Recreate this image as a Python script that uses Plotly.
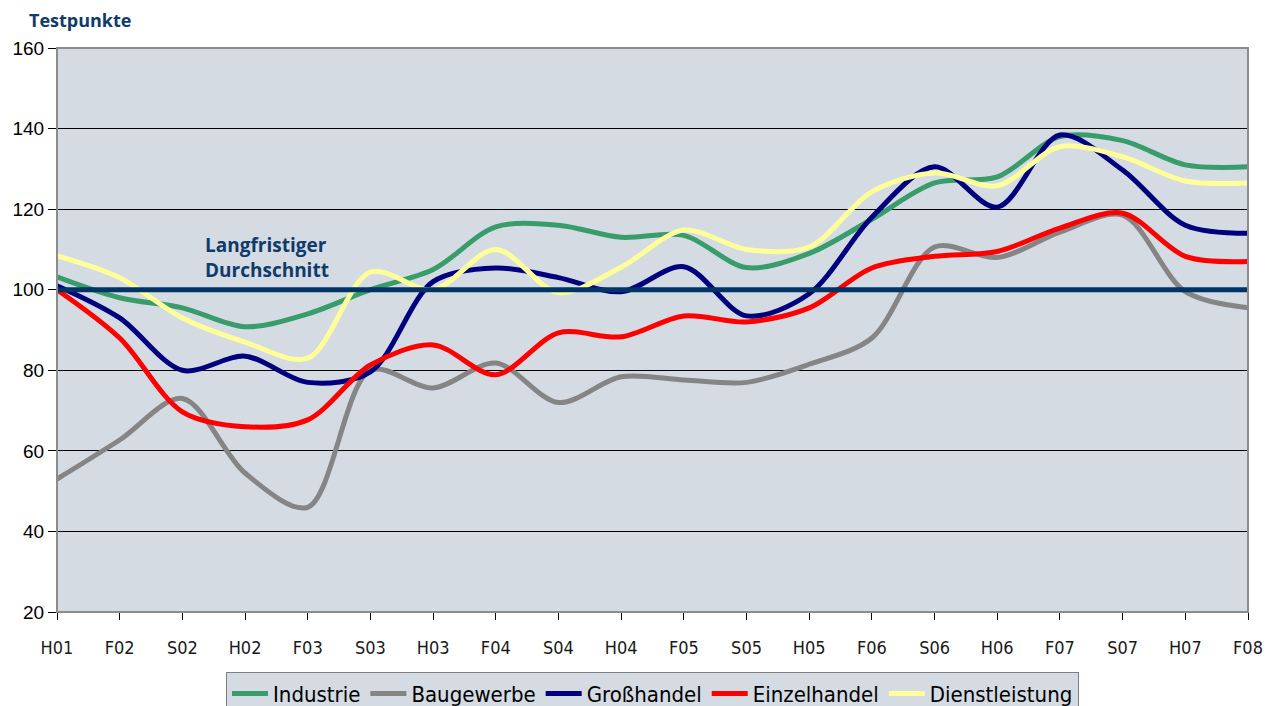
import plotly.graph_objects as go

periods = ["H01", "F02", "S02", "H02", "F03", "S03", "H03", "F04", "S04", "H04",
           "F05", "S05", "H05", "F06", "S06", "H06", "F07", "S07", "H07", "F08"]

industrie = [103.2, 98, 95.5, 90.8, 94, 100, 105, 115.6, 116, 113,
             113.5, 105.5, 109, 117.5, 126.5, 128, 138, 137, 131, 130.5]
baugewerbe = [53, 62.7, 73, 54.5, 46, 80, 75.6, 81.8, 72, 78.4,
              77.6, 77, 81.5, 88, 110.6, 108, 114.3, 118.5, 99.5, 95.5]
grosshandel = [101, 93, 80, 83.5, 77, 79.6, 102, 105.4, 103, 99.5,
               105.7, 93.5, 99, 118, 130.5, 120.5, 138.4, 129.7, 116, 114]
einzelhandel = [100, 88, 69.7, 66, 67.7, 81.3, 86.3, 78.9, 89.3, 88.3,
                93.5, 92, 95.5, 105.4, 108.3, 109.5, 115.3, 119, 108.3, 107]
dienstleistung = [108.4, 103, 93, 87, 83, 104.4, 100, 110, 99.3, 105.6,
                  114.8, 110, 110.6, 124.3, 129, 125.8, 135.5, 133, 127, 126.5]
long_term_avg = 100

series_names = ["Industrie", "Baugewerbe", "Großhandel", "Einzelhandel", "Dienstleistung"]
series_values = [industrie, baugewerbe, grosshandel, einzelhandel, dienstleistung]
series_colors = ["#389d6b", "#858585", "#00007f", "#ff0000", "#ffff99"]

y_ticks = [20, 40, 60, 80, 100, 120, 140, 160]

FIG_W, FIG_H = 1267, 698
M_L, M_R, M_T, M_B = 49, 27, 40, 94
COND = "DejaVu Sans Condensed, Liberation Sans"

xs = list(range(len(periods)))
fig = go.Figure()

for i in range(len(series_names)):
    fig.add_trace(go.Scatter(
        x=xs, y=series_values[i], name=series_names[i], mode="lines",
        line=dict(color=series_colors[i], width=5, shape="spline", smoothing=0.9),
        legendrank=i + 1,
    ))

fig.add_trace(go.Scatter(
    x=xs, y=[long_term_avg] * len(xs), mode="lines", showlegend=False,
    line=dict(color="#003366", width=5), hoverinfo="skip",
))

fig.add_annotation(x=2.33, y=101.2, text="<b>Langfristiger<br>Durchschnitt</b>",
                   showarrow=False, xanchor="left", yanchor="bottom", align="left",
                   font=dict(family="Open Sans, Liberation Sans", size=19, color="#0f3a6a"))

fig.add_annotation(xref="paper", yref="paper", x=-0.0252, y=1.0496, text="<b>Testpunkte</b>",
                   showarrow=False, xanchor="left", yanchor="middle",
                   font=dict(family="Open Sans, Liberation Sans", size=18, color="#0f3a6a"))

fig.add_shape(type="rect", xref="paper", yref="paper", x0=0, x1=1, y0=0, y1=1,
              line=dict(color="#8c8c8c", width=2), layer="above")

fig.update_layout(
    width=FIG_W, height=FIG_H, autosize=False,
    paper_bgcolor="white", plot_bgcolor="#d4dbe3",
    margin=dict(l=M_L, r=M_R, t=M_T, b=M_B, autoexpand=False),
    showlegend=True,
    legend=dict(orientation="h", x=0.5, xanchor="center",
                yref="container", y=0.049, yanchor="top",
                bgcolor="#d4dbe3", bordercolor="#7f7f7f", borderwidth=1,
                font=dict(family=COND, size=22, color="black"),
                itemwidth=36, tracegroupgap=0),
    xaxis=dict(range=[0, len(periods) - 1], tickvals=xs, ticktext=periods,
               showgrid=False, zeroline=False, showline=True, linecolor="black", linewidth=1,
               ticks="outside", ticklen=7, tickcolor="black", ticklabelstandoff=12,
               tickfont=dict(family=COND, size=18, color="#1a1a1a")),
    xaxis2=dict(range=[0, len(periods) - 1], tickvals=xs, showticklabels=False,
                overlaying="x", side="bottom", anchor="y",
                showgrid=False, zeroline=False, showline=False,
                ticks="inside", ticklen=7, tickcolor="black"),
    yaxis=dict(range=[20, 160], tickvals=y_ticks, showgrid=True, gridcolor="black", gridwidth=1,
               zeroline=False, showline=True, linecolor="#333333", linewidth=1,
               ticks="outside", ticklen=8, tickcolor="black",
               tickfont=dict(family="Liberation Sans, Arial", size=19, color="black")),
)

fig.write_html("out.html")
